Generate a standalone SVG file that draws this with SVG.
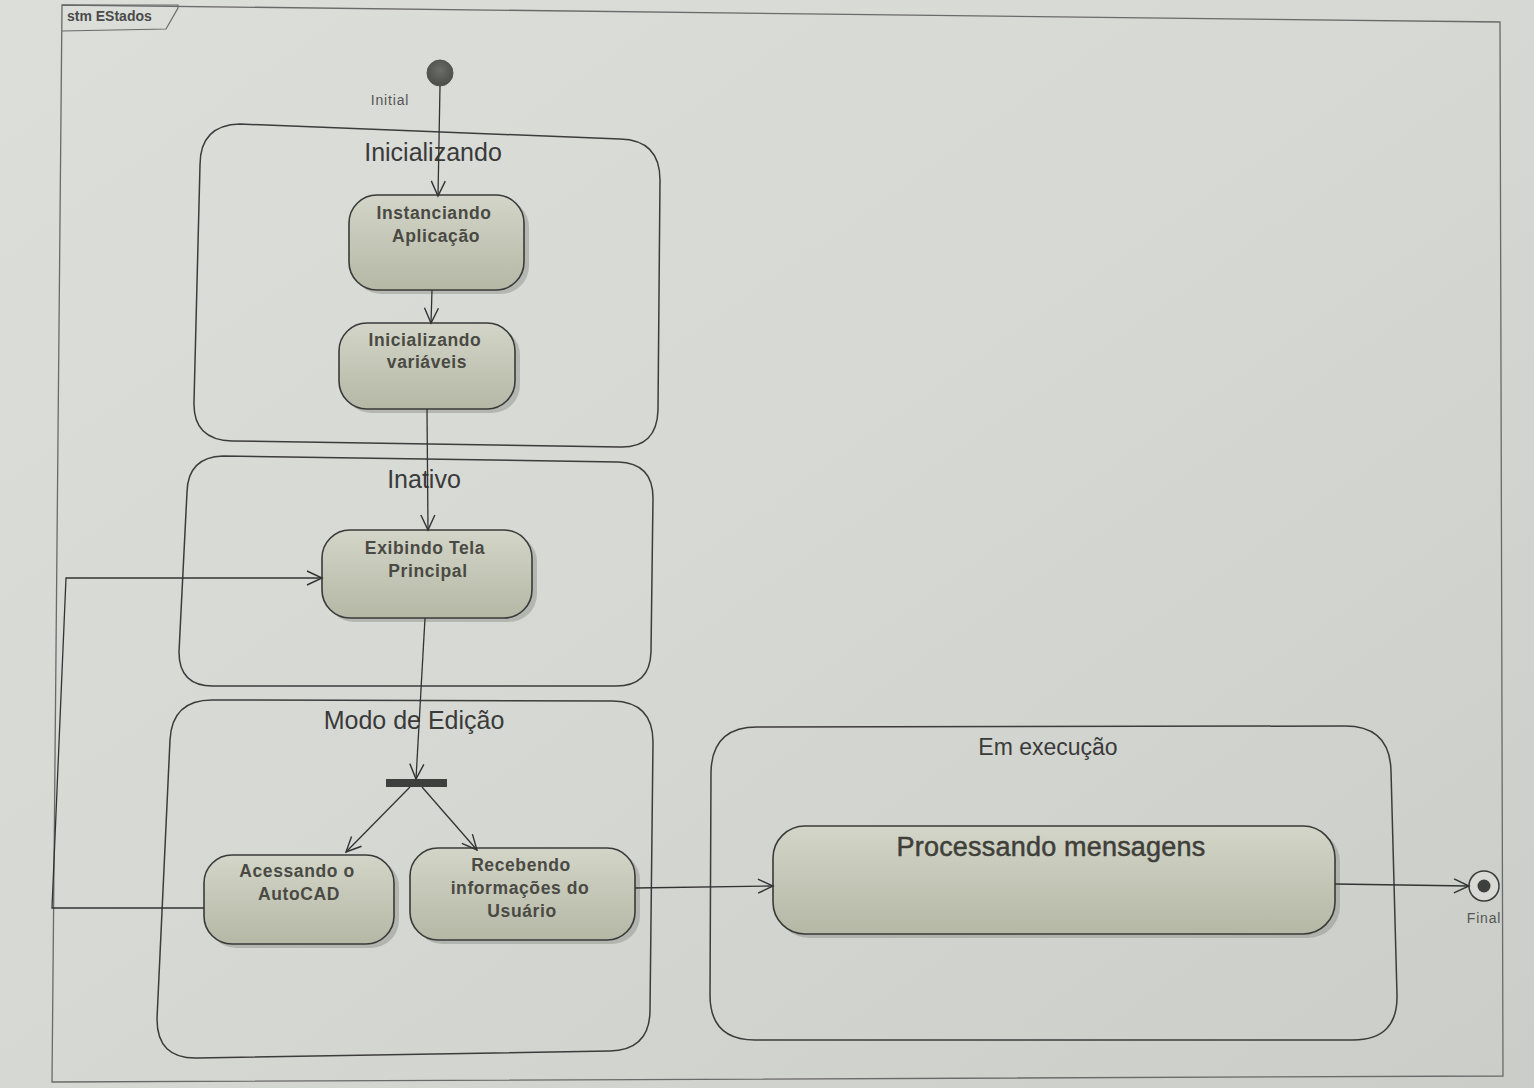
<svg xmlns="http://www.w3.org/2000/svg" width="1534" height="1088" viewBox="0 0 1534 1088">
<defs>
<linearGradient id="bg" x1="0" y1="0" x2="1" y2="1">
<stop offset="0" stop-color="#dcdeda"/><stop offset="0.5" stop-color="#d6d8d3"/><stop offset="1" stop-color="#cbcdc8"/>
</linearGradient>
<linearGradient id="st" x1="0" y1="0" x2="0" y2="1">
<stop offset="0" stop-color="#d3d5c8"/><stop offset="1" stop-color="#b5b8a5"/>
</linearGradient>
<radialGradient id="ini" cx="0.5" cy="0.4" r="0.6"><stop offset="0" stop-color="#6a6d68"/><stop offset="1" stop-color="#4a4d48"/></radialGradient>
<marker id="arr" markerWidth="18" markerHeight="18" refX="16" refY="9" orient="auto" markerUnits="userSpaceOnUse">
<path d="M1,2 L16,9 L1,16" fill="none" stroke="#333" stroke-width="1.4"/>
</marker>
</defs>
<style>
.frame{fill:none;stroke:#6a6a6a;stroke-width:1.3}
.comp{fill:none;stroke:#3c3c3c;stroke-width:1.5}
.ctitle{font-family:"Liberation Sans",Arial,sans-serif;font-size:25px;fill:#3a3a3a;text-anchor:middle}
.state{fill:url(#st);stroke:#3a3a3a;stroke-width:1.6}
.shadow{fill:#8a8c86;opacity:0.45}
.slabel{font-family:"Liberation Sans",Arial,sans-serif;font-size:17.5px;font-weight:bold;fill:#4a4a44;text-anchor:middle;letter-spacing:0.6px}
.small{font-family:"Liberation Sans",Arial,sans-serif;font-size:14px;fill:#555;text-anchor:middle;letter-spacing:0.8px}
.conn{fill:none;stroke:#333;stroke-width:1.3;marker-end:url(#arr)}
</style>
<rect x="0" y="0" width="1534" height="1088" fill="url(#bg)"/>

<g id="frame">
<path class="frame" d="M62,5 L1500,22 L1503,1076 L52,1082 Z"/>
<path d="M62,5 L178,5 L178,8 L166,29 L62,31" fill="none" stroke="#6a6a6a" stroke-width="1.2"/>
<text x="67" y="21" font-family="Liberation Sans,Arial,sans-serif" font-size="14" font-weight="bold" fill="#4a4a4a">stm EStados</text>
</g>

<g id="Inicializando">
<path class="comp" d="M240,124 L620,139 Q660,140 660,180 L658,410 Q657,448 620,447 L232,441 Q193,440 194,402 L200,165 Q200,125 240,124 Z"/>
<text class="ctitle" x="433" y="161">Inicializando</text>
</g>
<g id="Inativo">
<path class="comp" d="M223,456 L618,462 Q653,463 653,498 L651,652 Q650,686 616,686 L213,686 Q179,686 179,652 L187,492 Q188,457 223,456 Z"/>
<text class="ctitle" x="424" y="488">Inativo</text>
</g>
<g id="ModoEdicao">
<path class="comp" d="M212,700 L613,701 Q653,702 653,742 L650,1010 Q650,1050 610,1051 L197,1058 Q157,1059 157,1019 L170,740 Q172,700 212,700 Z"/>
<text class="ctitle" x="414" y="729">Modo de Edição</text>
</g>
<g id="EmExecucao">
<path class="comp" d="M757,727 L1345,726 Q1390,726 1391,771 L1397,995 Q1398,1040 1353,1040 L755,1040 Q710,1040 710,995 L711,772 Q712,727 757,727 Z"/>
<text class="ctitle" x="1048" y="755" style="font-size:23px">Em execução</text>
</g>

<g id="Initial">
<circle cx="440" cy="73" r="13" fill="url(#ini)" stroke="#555" stroke-width="1"/>
<text class="small" x="390" y="105">Initial</text>
</g>

<g id="InstanciandoAplicacao">
<rect class="shadow" x="353" y="199" width="176" height="95" rx="28"/>
<rect class="state" x="349" y="195" width="175" height="95" rx="28"/>
<text class="slabel" x="434" y="219">Instanciando</text>
<text class="slabel" x="436" y="242">Aplicação</text>
</g>
<g id="InicializandoVariaveis">
<rect class="shadow" x="343" y="327" width="177" height="86" rx="28"/>
<rect class="state" x="339" y="323" width="176" height="86" rx="28"/>
<text class="slabel" x="425" y="346">Inicializando</text>
<text class="slabel" x="427" y="368">variáveis</text>
</g>
<g id="ExibindoTelaPrincipal">
<rect class="shadow" x="326" y="534" width="211" height="88" rx="28"/>
<rect class="state" x="322" y="530" width="210" height="88" rx="28"/>
<text class="slabel" x="425" y="554">Exibindo Tela</text>
<text class="slabel" x="428" y="577">Principal</text>
</g>
<g id="Fork">
<rect x="386" y="779" width="61" height="8" fill="#3d403c"/>
</g>
<g id="AcessandoAutoCAD">
<rect class="shadow" x="208" y="859" width="191" height="89" rx="28"/>
<rect class="state" x="204" y="855" width="190" height="89" rx="28"/>
<text class="slabel" x="297" y="877">Acessando o</text>
<text class="slabel" x="299" y="900">AutoCAD</text>
</g>
<g id="RecebendoInformacoes">
<rect class="shadow" x="414" y="852" width="226" height="92" rx="28"/>
<rect class="state" x="410" y="848" width="225" height="92" rx="28"/>
<text class="slabel" x="521" y="871">Recebendo</text>
<text class="slabel" x="520" y="894">informações do</text>
<text class="slabel" x="522" y="917">Usuário</text>
</g>
<g id="ProcessandoMensagens">
<rect class="shadow" x="777" y="830" width="563" height="108" rx="32"/>
<rect class="state" x="773" y="826" width="562" height="108" rx="32"/>
<text class="slabel" x="1051" y="856" style="font-size:27px;font-weight:normal;letter-spacing:0.2px;fill:#3f3f3a;stroke:#3f3f3a;stroke-width:0.5">Processando mensagens</text>
</g>
<g id="Final">
<circle cx="1484" cy="886" r="15" fill="#d9dad5" stroke="#3a3a3a" stroke-width="1.5"/>
<circle cx="1484" cy="886" r="6.5" fill="#3d403c"/>
<text class="small" x="1484" y="923">Final</text>
</g>

<g id="connectors">
<path class="conn" d="M440,86 L438,196"/>
<path class="conn" d="M432,290 L431,323"/>
<path class="conn" d="M427,409 L428,530"/>
<path class="conn" d="M425,618 L416,779"/>
<path class="conn" d="M410,787 L346,852"/>
<path class="conn" d="M422,787 L477,850"/>
<path class="conn" d="M204,908 L52,908 L66,578 L322,578"/>
<path class="conn" d="M635,888 L773,886"/>
<path class="conn" d="M1335,884 L1469,886"/>
</g>
</svg>
